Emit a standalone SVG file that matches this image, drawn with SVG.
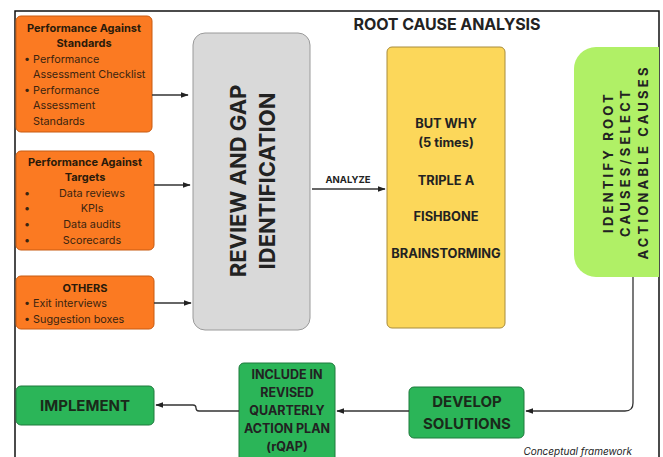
<svg xmlns="http://www.w3.org/2000/svg" width="663" height="457" viewBox="0 0 663 457">
<defs>
<style>
text{font-family:Inter,"Open Sans","DejaVu Sans",sans-serif;fill:#222;}
.b{font-weight:700;}
.orange{fill:#fb7a22;stroke:#c85a10;stroke-width:1;}
.ot{font-size:10.8px;fill:#3a2410;}
.oh{font-size:11px;font-weight:700;fill:#2a1a0a;}
.g{fill:#2bb558;stroke:#1e7a3c;stroke-width:1;}
.gt{font-size:15px;font-weight:700;fill:#1a2a1a;}
.conn{fill:none;stroke:#333;stroke-width:1.3;}
</style>
<marker id="ah" viewBox="0 0 10 10" refX="9" refY="5" markerWidth="6" markerHeight="6" orient="auto-start-reverse">
<path d="M0,1.5 L10,5 L0,8.5 z" fill="#222"/>
</marker>
</defs>
<rect width="663" height="457" fill="#fff"/>
<path d="M15,457 V11 H659 V457" fill="none" stroke="#111" stroke-width="1.5"/>
<text x="447" y="30" text-anchor="middle" class="b" font-size="16" textLength="187">ROOT CAUSE ANALYSIS</text>

<g id="pas">
<rect class="orange" x="16" y="16" width="136" height="116" rx="5"/>
<text class="oh" x="84" y="32" text-anchor="middle">Performance Against</text>
<text class="oh" x="84" y="47" text-anchor="middle">Standards</text>
<text class="ot" x="24" y="63">• Performance</text>
<text class="ot" x="33" y="78">Assessment Checklist</text>
<text class="ot" x="24" y="94">• Performance</text>
<text class="ot" x="33" y="109">Assessment</text>
<text class="ot" x="33" y="125">Standards</text>
</g>
<g id="pat">
<rect class="orange" x="16" y="151" width="138" height="99" rx="5"/>
<text class="oh" x="85" y="166" text-anchor="middle">Performance Against</text>
<text class="oh" x="85" y="181" text-anchor="middle">Targets</text>
<text class="ot" x="24" y="197">•</text>
<text class="ot" x="92" y="197" text-anchor="middle">Data reviews</text>
<text class="ot" x="24" y="212">•</text>
<text class="ot" x="92" y="212" text-anchor="middle">KPIs</text>
<text class="ot" x="24" y="228">•</text>
<text class="ot" x="92" y="228" text-anchor="middle">Data audits</text>
<text class="ot" x="24" y="244">•</text>
<text class="ot" x="92" y="244" text-anchor="middle">Scorecards</text>
</g>
<g id="others">
<rect class="orange" x="16" y="276" width="138" height="53" rx="5"/>
<text class="oh" x="85" y="292" text-anchor="middle">OTHERS</text>
<text class="ot" x="24" y="307">• Exit interviews</text>
<text class="ot" x="24" y="323">• Suggestion boxes</text>
</g>
<g id="review">
<rect x="193" y="33" width="117" height="297" rx="12" fill="#d9d9d9" stroke="#9a9a9a" stroke-width="1"/>
<text transform="translate(246,181) rotate(-90)" text-anchor="middle" class="b" font-size="22" fill="#222">REVIEW AND GAP</text>
<text transform="translate(275,181) rotate(-90)" text-anchor="middle" class="b" font-size="22" fill="#222">IDENTIFICATION</text>
</g>
<g id="rca">
<rect x="387" y="47" width="118" height="281" rx="5" fill="#fcd75a" stroke="#a88c3c" stroke-width="1"/>
<g class="b" font-size="12.8" text-anchor="middle">
<text x="446" y="128">BUT WHY</text>
<text x="446" y="147">(5 times)</text>
<text x="446" y="185">TRIPLE A</text>
<text x="446" y="221">FISHBONE</text>
<text x="446" y="258">BRAINSTORMING</text>
</g>
</g>
<g id="identify">
<path d="M659,47 V277 H596 A22,22 0 0 1 574,255 V69 A22,22 0 0 1 596,47 Z" fill="#b0f066"/>
<g class="b" font-size="13" text-anchor="middle" letter-spacing="3.2">
<text transform="translate(613,162) rotate(-90)">IDENTIFY ROOT</text>
<text transform="translate(630,162) rotate(-90)">CAUSES/SELECT</text>
<text transform="translate(648,162) rotate(-90)">ACTIONABLE CAUSES</text>
</g>
</g>
<g id="develop">
<rect class="g" x="409" y="387" width="115" height="51" rx="5"/>
<text class="gt" x="467" y="407" text-anchor="middle">DEVELOP</text>
<text class="gt" x="467" y="429" text-anchor="middle">SOLUTIONS</text>
</g>
<g id="rqap">
<rect class="g" x="239" y="363" width="96" height="100" rx="5"/>
<g class="b" font-size="12.5" text-anchor="middle" fill="#1a2a1a">
<text x="287" y="379">INCLUDE IN</text>
<text x="287" y="397">REVISED</text>
<text x="287" y="415">QUARTERLY</text>
<text x="287" y="433">ACTION PLAN</text>
<text x="287" y="451">(rQAP)</text>
</g>
</g>
<g id="implement">
<rect class="g" x="16" y="386" width="138" height="39" rx="5"/>
<text class="gt" x="85" y="411" text-anchor="middle">IMPLEMENT</text>
</g>
<text x="632" y="455" text-anchor="end" font-size="10" font-style="italic" fill="#555">Conceptual framework</text>

<g id="connectors">
<line class="conn" x1="152" y1="95" x2="188" y2="95" marker-end="url(#ah)"/>
<line class="conn" x1="154" y1="185" x2="190" y2="185" marker-end="url(#ah)"/>
<line class="conn" x1="154" y1="303" x2="191" y2="303" marker-end="url(#ah)"/>
<line class="conn" x1="312" y1="189" x2="385" y2="189" marker-end="url(#ah)"/>
<text x="348" y="183" text-anchor="middle" class="b" font-size="9.5">ANALYZE</text>
<path class="conn" d="M633,277 V403 Q633,411 625,411 H526" marker-end="url(#ah)"/>
<line class="conn" x1="409" y1="411" x2="337" y2="411" marker-end="url(#ah)"/>
<path class="conn" d="M239,411 H199 Q196,411 196,408 Q196,405 193,405 H156" marker-end="url(#ah)"/>
</g>
</svg>
